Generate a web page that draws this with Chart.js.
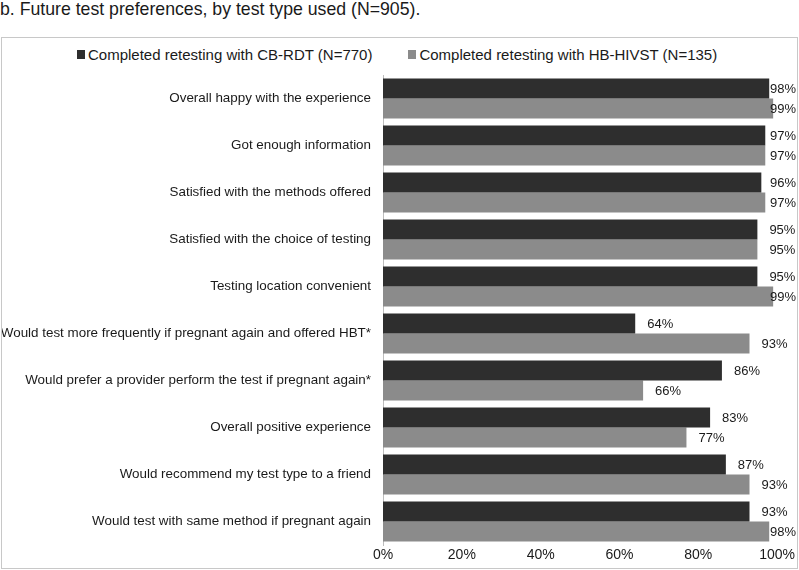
<!DOCTYPE html>
<html>
<head>
<meta charset="utf-8">
<script src="https://cdn.jsdelivr.net/npm/chart.js@4.4.1/dist/chart.umd.min.js"></script>
<style>
  body { margin: 0; background: #fff; font-family: "Liberation Sans", Arial, sans-serif; color: #1a1a1a; }
  #title { position: absolute; left: 0; top: -1px; font-size: 17.7px; white-space: nowrap; }
  #box { position: absolute; left: 1px; top: 37px; width: 795px; height: 530px; border: 1px solid #c8c8c8; }
  #legend { position: absolute; left: 75px; top: 8px; display: flex; gap: 36px; font-size: 15px; white-space: nowrap; }
  #legend span.item { display: flex; align-items: center; }
  #legend span.sw { display: inline-block; width: 8px; height: 9px; margin-right: 3px; }
  canvas { position: absolute; left: 0; top: 0; }
</style>
</head>
<body>
<div id="title">b. Future test preferences, by test type used (N=905).</div>
<div id="box">
  <div id="legend"></div>
  <canvas id="barChart" width="795" height="530"></canvas>
</div>
<script>
const categories = [
  "Overall happy with the experience",
  "Got enough information",
  "Satisfied with the methods offered",
  "Satisfied with the choice of testing",
  "Testing location convenient",
  "Would test more frequently if pregnant again and offered HBT*",
  "Would prefer a provider perform the test if pregnant again*",
  "Overall positive experience",
  "Would recommend my test type to a friend",
  "Would test with same method if pregnant again",
];
const seriesNames = ["Completed retesting with CB-RDT (N=770)", "Completed retesting with HB-HIVST (N=135)"];
const cbRdt = [98, 97, 96, 95, 95, 64, 86, 83, 87, 93];
const hbHivst = [99, 97, 97, 95, 99, 93, 66, 77, 93, 98];
const seriesColors = ["#2e2e2e", "#8b8b8b"];

// legende en HTML pour garder l'espacement d'origine
const legend = document.getElementById("legend");
seriesNames.forEach((name, i) => {
  const item = document.createElement("span");
  item.className = "item";
  const sw = document.createElement("span");
  sw.className = "sw";
  sw.style.background = seriesColors[i];
  item.appendChild(sw);
  item.appendChild(document.createTextNode(name));
  legend.appendChild(item);
});

// étiquettes de valeur au bout des barres
const valueLabels = {
  id: "valueLabels",
  afterDatasetsDraw(chart) {
    const ctx = chart.ctx;
    ctx.save();
    ctx.font = "13px 'Liberation Sans', Arial";
    ctx.fillStyle = "#1a1a1a";
    ctx.textAlign = "left";
    ctx.textBaseline = "middle";
    chart.data.datasets.forEach((ds, i) => {
      chart.getDatasetMeta(i).data.forEach((bar, j) => {
        const txt = ds.data[j] + "%";
        const w = ctx.measureText(txt).width;
        const x = Math.min(bar.x + 12, chart.width - 1 - w);
        ctx.fillText(txt, x, bar.y + 1);
      });
    });
    ctx.restore();
  },
};

const ctx = document.getElementById("barChart").getContext("2d");
const myChart = new Chart(ctx, {
  type: "bar",
  data: {
    labels: categories,
    datasets: [
      { label: seriesNames[0], data: cbRdt, backgroundColor: seriesColors[0] },
      { label: seriesNames[1], data: hbHivst, backgroundColor: seriesColors[1] },
    ],
  },
  options: {
    indexAxis: "y",
    responsive: false,
    animation: false,
    categoryPercentage: 0.851,
    barPercentage: 1,
    layout: { padding: { top: 37, right: 19, bottom: 0, left: 0 } },
    plugins: {
      legend: { display: false },
      tooltip: { enabled: false },
    },
    scales: {
      x: {
        min: 0,
        max: 100,
        ticks: {
          stepSize: 20,
          padding: 2,
          color: "#1a1a1a",
          font: { family: "'Liberation Sans', Arial", size: 14 },
          callback: (v) => v + "%",
        },
        grid: { display: false, drawTicks: false },
        border: { display: false },
        afterFit: (scale) => { scale.height = 23; },
      },
      y: {
        ticks: {
          padding: 12,
          color: "#1a1a1a",
          font: { family: "'Liberation Sans', Arial", size: 13.4 },
        },
        grid: { display: false, drawTicks: false },
        border: { display: true, color: "#bdbdbd", width: 1 },
        afterFit: (scale) => { scale.width = 381; },
      },
    },
  },
  plugins: [valueLabels],
});
</script>
</body>
</html>
